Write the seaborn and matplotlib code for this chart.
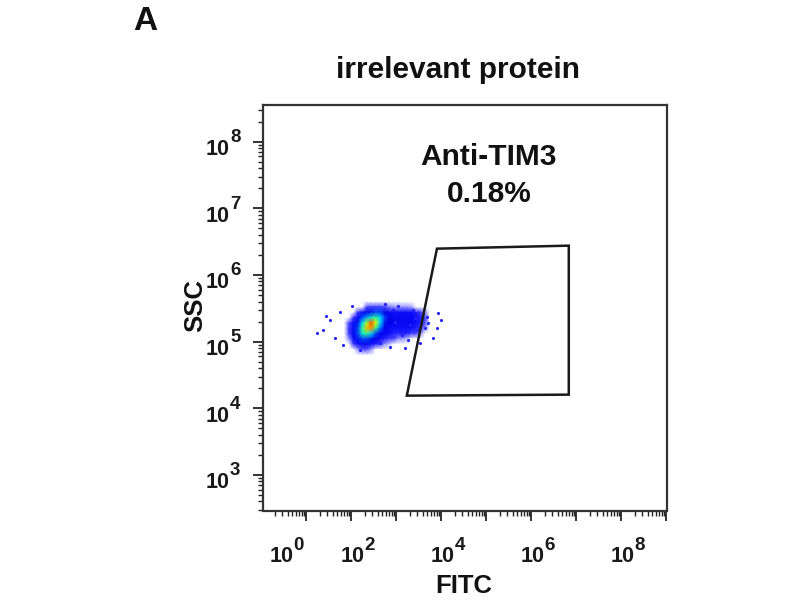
import numpy as np
import matplotlib
matplotlib.use("Agg")
import matplotlib.pyplot as plt
import seaborn as sns
from matplotlib.colors import LinearSegmentedColormap
from matplotlib.patches import Polygon
from matplotlib.ticker import FixedLocator, LogLocator, NullFormatter

# ---------------- data (log10 units) ----------------
# density grid of the main event cluster (FITC columns x SSC rows)
grid_logx = [1.85, 1.95, 2.05, 2.15, 2.25, 2.35, 2.45, 2.55, 2.65, 2.75, 2.85,
             2.95, 3.05, 3.15, 3.25, 3.35, 3.45, 3.55, 3.65, 3.75, 3.85]
grid_logy = [5.68, 5.60, 5.52, 5.44, 5.36, 5.28, 5.20, 5.12, 5.04, 4.96, 4.88, 4.80]
density = [
    [0, 0, 0, 0, 0, 0, 0, 0, 0, 0, 0, 0, 0, 0, 0, 0, 0, 0, 0, 0, 0],
    [0, 0, 0, 0, 0, 0, 0, 0, 0, 0, 0, 0, 0, 0, 0, 0, 0, 0, 0, 0, 0],
    [0, 0, 0, 0, 0, 0.8, 1, 1, 1, 0.8, 0.6, 0.5, 0.5, 0.5, 0.5, 0.4, 0, 0, 0, 0, 0],
    [0, 0, 0, 1, 2, 3, 3.5, 4, 4, 3, 2.5, 2, 2, 2, 2, 2, 1.5, 1, 0.5, 0, 0],
    [0, 0, 1, 2.5, 4, 5, 6, 6.5, 5.5, 4, 3, 2.5, 2.5, 2.5, 2.5, 2.5, 2, 1.5, 0.8, 0, 0],
    [0, 0.8, 2, 3.5, 5.5, 7.5, 9.5, 8, 5.5, 3.5, 3, 2.5, 2.5, 2.5, 2.5, 2.5, 2, 1.5, 0.8, 0, 0],
    [0, 1, 2.5, 4, 6.5, 8.5, 9, 6.5, 4.5, 3, 2.5, 2, 2, 2, 2, 2, 1.5, 1, 0.5, 0, 0],
    [0, 1, 2.5, 4, 6, 6.5, 5.5, 4, 3, 2.5, 2, 1.5, 1.5, 1.5, 1.5, 1, 1, 0.5, 0, 0, 0],
    [0, 0.5, 2, 3.5, 4, 4, 3.5, 3, 2, 1.5, 1, 1, 0.5, 0.5, 0.3, 0, 0, 0, 0, 0, 0],
    [0, 0, 1, 2, 2.5, 2.5, 2, 1.5, 1, 0.5, 0.3, 0, 0, 0, 0, 0, 0, 0, 0, 0, 0],
    [0, 0, 0, 0.5, 0.8, 0.8, 0.5, 0, 0, 0, 0, 0, 0, 0, 0, 0, 0, 0, 0, 0, 0],
    [0, 0, 0, 0, 0, 0, 0, 0, 0, 0, 0, 0, 0, 0, 0, 0, 0, 0, 0, 0, 0],
]

# sparse individual events around the cluster
event_logx = [1.24, 1.53, 1.76, 1.64, 1.38, 1.44, 1.82, 3.93, 3.82, 3.71, 3.69,
              2.87, 2.64, 2.93, 3.38, 3.53, 3.20, 3.04, 3.49, 3.64, 3.31, 3.42,
              3.13, 3.27, 2.98, 2.20, 2.02, 2.76, 3.91, 4.00]
event_logy = [5.135, 5.33, 5.45, 5.06, 5.18, 5.39, 4.955, 5.435, 5.06, 5.285, 5.375,
              4.925, 4.985, 5.48, 5.48, 4.985, 4.91, 5.54, 5.18, 5.21, 5.255, 5.36,
              5.105, 5.03, 5.30, 4.88, 5.54, 5.57, 5.21, 5.33]

# gate polygon
gate_logx = [3.91, 6.84, 6.84, 3.24]
gate_logy = [6.395, 6.44, 4.205, 4.19]

gate_name = "Anti-TIM3"
gate_pct = "0.18%"
title = "irrelevant protein"
x_label = "FITC"
y_label = "SSC"
panel = "A"

x_labeled = [0, 2, 4, 6, 8]
y_labeled = [3, 4, 5, 6, 7, 8]

# ---------------- style ----------------
sns.set_theme(style="ticks")
FONT = "Liberation Sans"
plt.rcParams["font.family"] = [FONT, "DejaVu Sans"]

W, H = 800, 600
fig = plt.figure(figsize=(8, 6), dpi=100)
L, R, T, B = 262.5, 666.7, 105.0, 510.5
ax = fig.add_axes([L / W, 1 - B / H, (R - L) / W, (B - T) / H])
ax.set_facecolor("white")
ax.set_xscale("log")
ax.set_yscale("log")
ax.set_xlim(10 ** 0.033, 10 ** 9.016)
ax.set_ylim(10 ** 2.467, 10 ** 8.55)

cmap = LinearSegmentedColormap.from_list(
    "flow",
    [(0.0, "#ffffff"), (0.08, "#4a4aff"), (0.18, "#1010ff"), (0.32, "#0000e6"),
     (0.45, "#0070ff"), (0.55, "#00d8ff"), (0.68, "#40ff70"), (0.8, "#e0ff00"),
     (0.9, "#ff8c00"), (1.0, "#ff1a00")])

GX, GY = np.meshgrid(10.0 ** np.array(grid_logx), 10.0 ** np.array(grid_logy))
ax.pcolormesh(GX, GY, np.array(density), shading="gouraud", cmap=cmap,
              vmin=0, vmax=10, zorder=1)

sns.scatterplot(x=10.0 ** np.array(event_logx), y=10.0 ** np.array(event_logy),
                s=5, color="#2020ff", linewidth=0, ax=ax, zorder=2, legend=False)

ax.add_patch(Polygon(list(zip(10.0 ** np.array(gate_logx), 10.0 ** np.array(gate_logy))),
                     closed=True, fill=False, lw=1.8, ec="#1a1a1a", zorder=3))

# ticks
ax.xaxis.set_major_locator(FixedLocator(10.0 ** np.arange(0, 10)))
ax.yaxis.set_major_locator(FixedLocator(10.0 ** np.arange(2, 9)))
ax.xaxis.set_minor_locator(LogLocator(base=10, subs=np.arange(2, 10), numticks=20))
ax.yaxis.set_minor_locator(LogLocator(base=10, subs=np.arange(2, 10), numticks=20))
for axis in (ax.xaxis, ax.yaxis):
    axis.set_major_formatter(NullFormatter())
    axis.set_minor_formatter(NullFormatter())
ax.tick_params(which="major", direction="out", length=7.5, width=1.3, colors="#222222")
ax.tick_params(which="minor", direction="out", length=3.5, width=1.0, colors="#222222")
for s in ax.spines.values():
    s.set_linewidth(1.6)
    s.set_color("#333333")

# tick labels: large "10" with a big raised exponent (flow-cytometry style)
PT = 0.72  # points per pixel at 100 dpi
base_kw = dict(fontsize=15.5, fontweight="bold", color="#1a1a1a",
               textcoords="offset points", annotation_clip=False, va="baseline")
exp_kw = dict(fontsize=13.5, fontweight="bold", color="#1a1a1a",
              textcoords="offset points", annotation_clip=False, va="baseline", ha="left")
for e in y_labeled:
    xy = (0, 10.0 ** e)
    ax.annotate("10", xy=xy, xycoords=("axes fraction", "data"),
                xytext=(-32.5 * PT, -13.5 * PT), ha="right", **base_kw)
    ax.annotate(str(e), xy=xy, xycoords=("axes fraction", "data"),
                xytext=(-32.5 * PT, -0.5 * PT), **exp_kw)
for e in x_labeled:
    xy = (10.0 ** e, 0)
    dx = 20.6 if e == 0 else 2.0
    ax.annotate("10", xy=xy, xycoords=("data", "axes fraction"),
                xytext=(dx * PT, -51.2 * PT), ha="center", **base_kw)
    ax.annotate(str(e), xy=xy, xycoords=("data", "axes fraction"),
                xytext=((dx + 11.5) * PT, -39.5 * PT), **exp_kw)

# texts
fig.text(145 / W, 1 - 30 / H, panel, ha="center", va="baseline", fontsize=24,
         fontweight="bold", color="#111111")
fig.text(457.5 / W, 1 - 78.5 / H, title, ha="center", va="baseline", fontsize=21.5,
         fontweight="bold", color="#111111")
fig.text(489 / W, 1 - 165 / H, gate_name, ha="center", va="baseline", fontsize=21.5,
         fontweight="bold", color="#111111")
fig.text(489.5 / W, 1 - 201.5 / H, gate_pct, ha="center", va="baseline", fontsize=21.5,
         fontweight="bold", color="#111111")
fig.text(464 / W, 1 - 586 / H, x_label, ha="center", va="center", fontsize=18.5,
         fontweight="bold", color="#111111")
fig.text(195 / W, 1 - 306 / H, y_label, ha="center", va="center", rotation=90,
         fontsize=18.5, fontweight="bold", color="#111111")

fig.savefig("out.png", dpi=100, facecolor="white")
